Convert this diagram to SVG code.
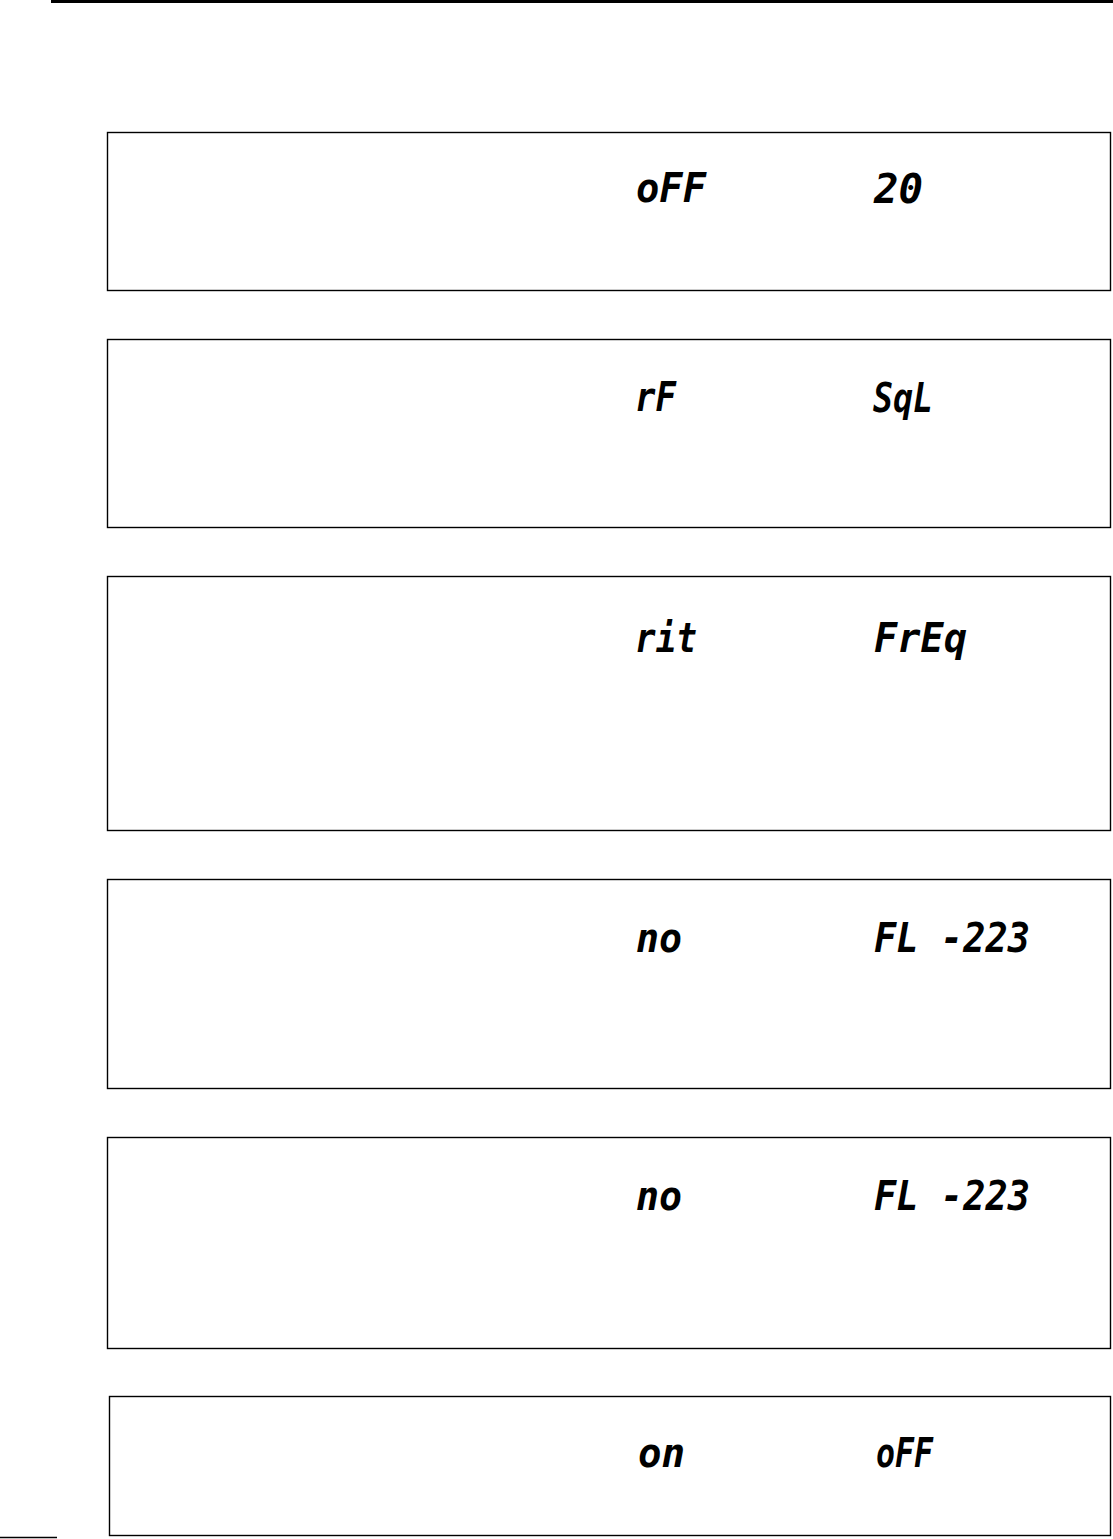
<svg xmlns="http://www.w3.org/2000/svg" width="1113" height="1539" viewBox="0 0 1113 1539">
<style>
.box{fill:none;stroke:#000;stroke-width:1.4}
.lcd{font-family:"DejaVu Sans Mono","Liberation Mono",monospace;font-style:oblique;font-weight:bold;font-size:41px;fill:#000}
</style>
<rect width="1113" height="1539" fill="#fff"/>
<line x1="51" y1="1.5" x2="1113" y2="1.5" stroke="#000" stroke-width="3"/>
<line x1="0" y1="1537.5" x2="57" y2="1537.5" stroke="#000" stroke-width="1.5"/>
<g id="box1">
<rect class="box" x="107.5" y="132.5" width="1003" height="158"/>
<text class="lcd" x="636" y="202" textLength="70" lengthAdjust="spacingAndGlyphs">oFF</text>
<text class="lcd" x="874" y="203" textLength="49" lengthAdjust="spacingAndGlyphs">20</text>
</g>
<g id="box2">
<rect class="box" x="107.5" y="339.5" width="1003" height="188"/>
<text class="lcd" x="635" y="411" textLength="41" lengthAdjust="spacingAndGlyphs">rF</text>
<text class="lcd" x="873" y="412" textLength="60" lengthAdjust="spacingAndGlyphs">SqL</text>
</g>
<g id="box3">
<rect class="box" x="107.5" y="576.5" width="1003" height="254"/>
<text class="lcd" x="635" y="652" textLength="62" lengthAdjust="spacingAndGlyphs">rit</text>
<text class="lcd" x="874" y="652" textLength="93" lengthAdjust="spacingAndGlyphs">FrEq</text>
</g>
<g id="box4">
<rect class="box" x="107.5" y="879.5" width="1003" height="209"/>
<text class="lcd" x="636" y="952" textLength="46" lengthAdjust="spacingAndGlyphs">no</text>
<text class="lcd" x="874" y="952" textLength="156" lengthAdjust="spacingAndGlyphs">FL -223</text>
</g>
<g id="box5">
<rect class="box" x="107.5" y="1137.5" width="1003" height="211"/>
<text class="lcd" x="636" y="1210" textLength="46" lengthAdjust="spacingAndGlyphs">no</text>
<text class="lcd" x="874" y="1210" textLength="156" lengthAdjust="spacingAndGlyphs">FL -223</text>
</g>
<g id="box6">
<rect class="box" x="109.5" y="1396.5" width="1001" height="139"/>
<text class="lcd" x="638" y="1467" textLength="47" lengthAdjust="spacingAndGlyphs">on</text>
<text class="lcd" x="876" y="1467" textLength="57" lengthAdjust="spacingAndGlyphs">oFF</text>
</g>
</svg>
